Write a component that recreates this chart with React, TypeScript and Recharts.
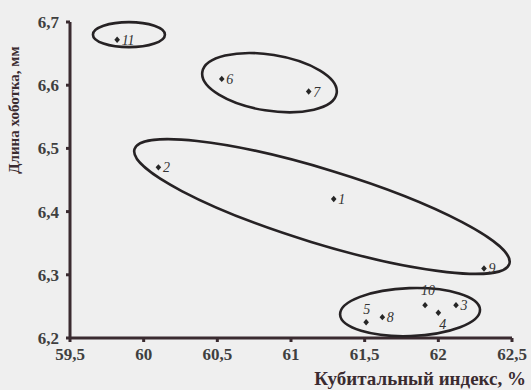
import { ScatterChart, Scatter, XAxis, YAxis } from "recharts";

const pointIds = ["1", "2", "3", "4", "5", "6", "7", "8", "9", "10", "11"];
const cubitalIndex = [61.29, 60.1, 62.12, 62.0, 61.51, 60.53, 61.12, 61.62, 62.31, 61.91, 59.82];
const proboscisLength = [6.42, 6.47, 6.252, 6.24, 6.225, 6.61, 6.59, 6.233, 6.31, 6.252, 6.672];

const xTicks = [59.5, 60, 60.5, 61, 61.5, 62, 62.5];
const yTicks = [6.2, 6.3, 6.4, 6.5, 6.6, 6.7];

// cluster outlines: centre in data units, size in px
const clusterX = [59.9, 60.854, 61.21, 61.808];
const clusterY = [6.68, 6.604, 6.408, 6.241];
const clusterRx = [36, 68, 196, 70];
const clusterRy = [12.5, 28, 37, 24];
const clusterAngle = [0, 9, 17, -2];

// where each number sits relative to its dot
const labelPos: Record<string, [number, number]> = {
  "10": [-4, -10],
  "5": [-3, -8],
  "4": [1, 16],
};

const points = pointIds.map((id, i) => ({ id, x: cubitalIndex[i], y: proboscisLength[i] }));
const clusters = clusterX.map((x, i) => ({
  x,
  y: clusterY[i],
  rx: clusterRx[i],
  ry: clusterRy[i],
  angle: clusterAngle[i],
}));

const INK = "#3a2b30";
const SERIF = "'Liberation Serif', 'DejaVu Serif', serif";

const fmt = (v: number) => String(v).replace(".", ",");

function PointShape(props: any) {
  const { cx, cy, payload } = props;
  const off = labelPos[payload.id];
  const lx = off ? cx + off[0] : cx + 4.5;
  const ly = off ? cy + off[1] : cy + 5;
  return (
    <g>
      <path d={`M${cx},${cy - 3.2} L${cx + 2.8},${cy} L${cx},${cy + 3.2} L${cx - 2.8},${cy} Z`} fill="#262626" />
      <text x={lx} y={ly} fontFamily={SERIF} fontStyle="italic" fontSize={14} fill="#333">
        {payload.id}
      </text>
    </g>
  );
}

function ClusterShape(props: any) {
  const { cx, cy, payload } = props;
  return (
    <ellipse
      cx={cx}
      cy={cy}
      rx={payload.rx}
      ry={payload.ry}
      transform={`rotate(${payload.angle} ${cx} ${cy})`}
      fill="none"
      stroke="#262224"
      strokeWidth={2.6}
    />
  );
}

export default function App() {
  return (
    <div style={{ position: "fixed", left: 0, top: 0, width: 531, height: 390, background: "#efefef" }}>
      <ScatterChart width={531} height={390} margin={{ top: 22, right: 19, left: 0, bottom: 0 }}>
        <XAxis
          type="number"
          dataKey="x"
          domain={[59.5, 62.5]}
          ticks={xTicks}
          tickFormatter={fmt}
          height={52}
          stroke={INK}
          strokeWidth={3}
          tickSize={4}
          tickMargin={6}
          tick={{ fontFamily: SERIF, fontWeight: 700, fontSize: 17, fill: "#3f3f3f" }}
          label={{
            content: () => (
              <text x={526} y={385} textAnchor="end" fontFamily={SERIF} fontWeight={700} fontSize={19} fill="#3a2b30">
                Кубитальный индекс, %
              </text>
            ),
          }}
        />
        <YAxis
          type="number"
          dataKey="y"
          domain={[6.2, 6.7]}
          ticks={yTicks}
          tickFormatter={fmt}
          width={70}
          stroke={INK}
          strokeWidth={3}
          tickSize={4}
          tickMargin={7}
          tick={{ fontFamily: SERIF, fontWeight: 700, fontSize: 17, fill: "#3f3f3f" }}
          label={{
            content: () => (
              <text
                x={16}
                y={110}
                transform="rotate(-90 16 110)"
                textAnchor="middle"
                dominantBaseline="middle"
                fontFamily={SERIF}
                fontWeight={700}
                fontSize={15}
                fill="#3a2b30"
              >
                Длина хоботка, мм
              </text>
            ),
          }}
        />
        <Scatter data={clusters} shape={<ClusterShape />} isAnimationActive={false} />
        <Scatter data={points} shape={<PointShape />} isAnimationActive={false} />
      </ScatterChart>
    </div>
  );
}
